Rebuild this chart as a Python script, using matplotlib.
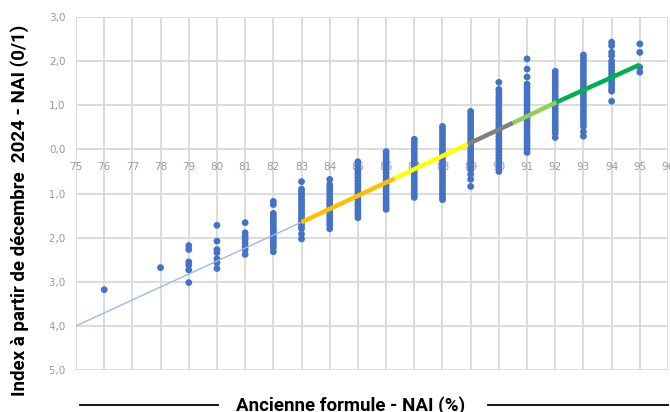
import numpy as np
import matplotlib
matplotlib.use("Agg")
from matplotlib import pyplot as plt
from matplotlib.patches import Rectangle
from matplotlib.lines import Line2D

# NAI columns (old formula, %) and the index values observed in each column
x_positions = [76, 78, 79, 80, 81, 82, 83, 84, 85, 86, 87, 88, 89, 90, 91, 92, 93, 94, 95]
values_by_x = [
    [-3.18],
    [-2.68],
    [-2.18, -2.27, -2.55, -2.62, -2.73, -3.02],
    [-1.72, -2.08, -2.27, -2.34, -2.48, -2.57, -2.70],
    [-1.66, -1.89, -1.97, -2.04, -2.12, -2.20, -2.27, -2.38],
    [-1.18, -1.25, -1.45, -1.51, -1.57, -1.63, -1.69, -1.75, -1.81, -1.87, -1.93, -1.99,
     -2.05, -2.11, -2.17, -2.23, -2.32],
    [-0.73, -0.90, -0.96, -1.02, -1.08, -1.14, -1.20, -1.26, -1.32, -1.38, -1.44, -1.50,
     -1.56, -1.62, -1.68, -1.74, -1.80, -1.92, -2.03],
    [-0.68, -0.80, -0.87, -0.94, -1.01, -1.08, -1.15, -1.22, -1.29, -1.36, -1.43, -1.50,
     -1.57, -1.64, -1.71, -1.80],
    [-0.28, -0.36, -0.43, -0.50, -0.57, -0.64, -0.71, -0.78, -0.85, -0.92, -0.99, -1.06,
     -1.13, -1.20, -1.27, -1.34, -1.41, -1.48, -1.55],
    [-0.05, -0.12, -0.19, -0.26, -0.33, -0.40, -0.47, -0.54, -0.61, -0.68, -0.75, -0.82,
     -0.89, -0.96, -1.03, -1.10, -1.17, -1.24, -1.31, -1.36],
    [0.23, 0.16, 0.09, 0.02, -0.05, -0.12, -0.19, -0.26, -0.33, -0.40, -0.47, -0.54,
     -0.61, -0.68, -0.75, -0.82, -0.89, -0.96, -1.03, -1.09],
    [0.52, 0.45, 0.38, 0.31, 0.24, 0.17, 0.10, 0.03, -0.04, -0.11, -0.18, -0.25, -0.32,
     -0.39, -0.46, -0.53, -0.60, -0.67, -0.74, -0.81, -0.88, -0.95, -1.02, -1.08, -1.14],
    [0.86, 0.79, 0.72, 0.65, 0.58, 0.51, 0.44, 0.37, 0.30, 0.23, 0.16, 0.09, 0.02,
     -0.05, -0.12, -0.19, -0.26, -0.33, -0.40, -0.47, -0.57, -0.68, -0.84],
    [1.52, 1.36, 1.29, 1.20, 1.13, 1.06, 0.99, 0.92, 0.85, 0.78, 0.71, 0.64, 0.57, 0.50,
     0.43, 0.36, 0.29, 0.22, 0.15, 0.08, 0.01, -0.06, -0.13, -0.20, -0.27, -0.34, -0.41,
     -0.50],
    [2.05, 1.82, 1.64, 1.48, 1.41, 1.34, 1.27, 1.20, 1.13, 1.06, 0.99, 0.92, 0.85, 0.78,
     0.71, 0.64, 0.57, 0.50, 0.43, 0.36, 0.29, 0.22, 0.15, 0.08, 0.01, -0.07],
    [1.77, 1.70, 1.63, 1.56, 1.49, 1.42, 1.35, 1.28, 1.21, 1.14, 1.07, 1.00, 0.93, 0.86,
     0.79, 0.72, 0.65, 0.58, 0.51, 0.44, 0.37, 0.27],
    [2.14, 2.07, 2.00, 1.93, 1.86, 1.79, 1.72, 1.65, 1.58, 1.51, 1.44, 1.37, 1.30, 1.23,
     1.16, 1.09, 1.02, 0.95, 0.88, 0.81, 0.74, 0.67, 0.60, 0.52, 0.40, 0.30],
    [2.43, 2.35, 2.20, 2.12, 2.00, 1.93, 1.86, 1.79, 1.72, 1.65, 1.58, 1.51, 1.44, 1.37,
     1.32, 1.09],
    [2.39, 2.20, 1.86, 1.75],
]

# trend line break points and the colour of each segment
trend_x = [75, 83, 86.3, 88.9, 90.5, 92.05, 95]
trend_y = [-4.00, -1.65, -0.66, 0.12, 0.60, 1.07, 1.92]
segment_colors = ["#9DB9E8", "#FFC000", "#FFFF00", "#808080", "#92D050", "#00B050"]

x_ticks = list(range(75, 97))
y_ticks = [3, 2, 1, 0, -1, -2, -3, -4, -5]

fig = plt.figure(figsize=(6.7, 4.12), dpi=100)
ax = fig.add_axes([76 / 670, 1 - 370 / 412, 592 / 670, 353 / 412])
ax.set_xlim(75, 96)
ax.set_ylim(-5, 3)

grid_color = "#DCDCDC"
ax.set_xticks(x_ticks)
ax.set_yticks(y_ticks)
ax.grid(True, color=grid_color, linewidth=1.4)
ax.set_axisbelow(True)
for side in ["top", "right", "left"]:
    ax.spines[side].set_visible(False)
ax.spines["bottom"].set_position(("data", 0))
ax.spines["bottom"].set_color("none")
ax.tick_params(axis="both", length=0, colors="#9A9A9A", labelsize=7.5)
ax.tick_params(axis="x", pad=9)
ax.tick_params(axis="y", pad=7.5)
ax.set_yticklabels([("%.1f" % v).replace(".", ",") for v in y_ticks])

# scatter
for xv, vals in zip(x_positions, values_by_x):
    ax.scatter([xv] * len(vals), vals, s=24, color="#4472C4", edgecolors="none", zorder=3)

# trend line
for i, c in enumerate(segment_colors):
    lw = 1.0 if i == 0 else 3.2
    ax.plot(trend_x[i:i + 2], trend_y[i:i + 2], color=c, linewidth=lw,
            solid_capstyle="butt", zorder=4)

# the source image is cropped on the left, hiding the minus signs
fig.patches.append(Rectangle((0, 0), 50 / 670, 1, transform=fig.transFigure,
                             facecolor="white", edgecolor="none", zorder=5))

fig.text(20 / 670, 1 - 210 / 412, "Index à partir de décembre  2024 - NAI (0/1)",
         rotation=90, ha="center", va="center", fontsize=13.5, fontweight="bold",
         family="Roboto", zorder=6)
fig.text(351 / 670, 1 - 411 / 412, "Ancienne formule - NAI (%)", ha="center",
         va="baseline", fontsize=13.5, fontweight="bold", family="Roboto", zorder=6)
for x0, x1 in [(80, 218), (488, 668)]:
    fig.lines.append(Line2D([x0 / 670, x1 / 670], [1 - 405 / 412, 1 - 405 / 412],
                            transform=fig.transFigure, color="black", linewidth=1.3))

fig.savefig("out.png", dpi=100)
plt.close(fig)
